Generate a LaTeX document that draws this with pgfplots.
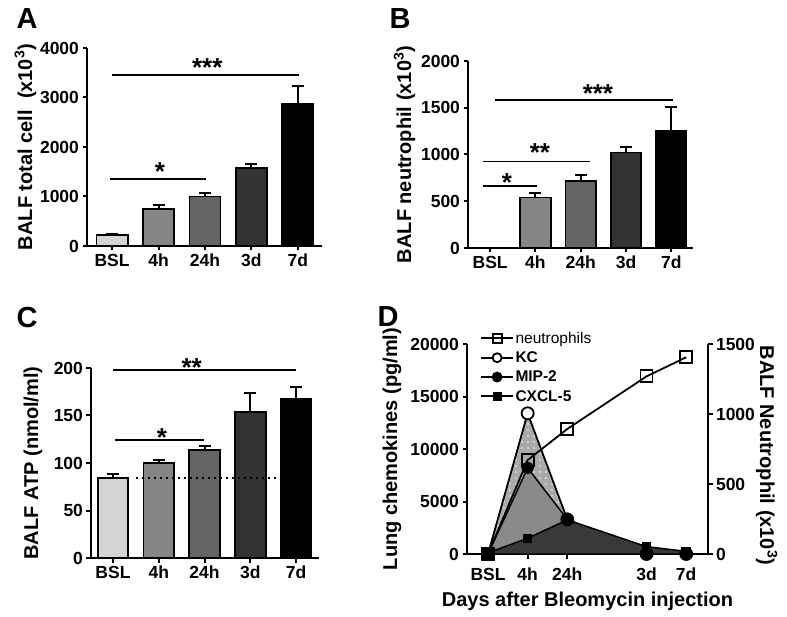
\documentclass[border=0pt]{standalone}
\usepackage{fontspec}
\setmainfont{Liberation Sans}
\usepackage{pgfplots}
\pgfplotsset{compat=1.18}
\usetikzlibrary{patterns.meta}

\newcommand{\fs}[1]{\fontsize{#1}{#1}\selectfont}

\definecolor{ga}{HTML}{D4D4D4}
\definecolor{gb}{HTML}{858585}
\definecolor{gc}{HTML}{646464}
\definecolor{gd}{HTML}{333333}
\definecolor{ge}{HTML}{000000}
\definecolor{kcg}{HTML}{A9A9A9}
\definecolor{mipg}{HTML}{8A8A8A}
\definecolor{cxg}{HTML}{393939}

\pgfplotsset{
  panel/.style={
    scale only axis, anchor=south west, clip=false,
    axis lines*=left,
    axis line style={-, line width=2pt},
    tick align=outside, major tick length=4.5pt,
    every tick/.style={black, line width=2pt},
    tick label style={font=\fs{17.5}\bfseries},
    /pgf/number format/assume math mode=true,
    /pgf/number format/1000 sep={},
    scaled y ticks=false,
    ymin=0,
    xtick={0,1,2,3,4}, xticklabels={BSL,4h,24h,3d,7d},
    minor tick num=0,
  },
  mybar/.style={ybar, bar width=0.67, bar shift=0pt, fill=#1, draw=black, line width=1.8pt,
    error bars/y dir=plus, error bars/y explicit,
    error bars/error bar style={line width=2pt, black},
    error bars/error mark options={rotate=90, mark size=6pt, line width=2pt, black}},
  sig/.style={black, line width=1.8pt, mark=none},
}
\tikzset{star/.style={anchor=base, font=\fs{26}\bfseries, yshift=-14pt}}

\begin{document}
\begin{tikzpicture}
\useasboundingbox (0,0) rectangle (787pt,616pt);

\node[font=\fs{29}\bfseries] at (27pt,597pt) {A};
\node[font=\fs{29}\bfseries] at (400pt,597pt) {B};
\node[font=\fs{29}\bfseries] at (27pt,298pt) {C};
\node[font=\fs{29}\bfseries] at (388pt,299pt) {D};

% ---------------- A
\begin{axis}[panel, at={(87pt,370pt)}, width=235pt, height=198pt,
  xmin=-0.54, xmax=4.52, ymax=4000, ytick={0,1000,2000,3000,4000},
  ylabel={BALF total cell\ \ (x10\textsuperscript{3})},
  every axis y label/.style={at={(axis description cs:-0.234,0.5)}, rotate=90, anchor=base, font=\fs{20}\bfseries}]
\addplot[mybar=ga] coordinates {(0,216) +- (0,27)};
\addplot[mybar=gb] coordinates {(1,742) +- (0,88)};
\addplot[mybar=gc] coordinates {(2,1000) +- (0,70)};
\addplot[mybar=gd] coordinates {(3,1572) +- (0,87)};
\addplot[mybar=ge] coordinates {(4,2874) +- (0,350)};
\addplot[sig] coordinates {(0,3455) (4.02,3455)};
\addplot[sig] coordinates {(-0.05,1353) (2.02,1353)};
\node[star] at (axis cs:2.05,3717) {***};
\node[star] at (axis cs:1.03,1596) {*};
\end{axis}

% ---------------- B
\begin{axis}[panel, at={(468pt,368pt)}, width=225pt, height=187pt,
  xmin=-0.49, xmax=4.48, ymax=2000, ytick={0,500,1000,1500,2000},
  ylabel={BALF neutrophil (x10\textsuperscript{3})},
  every axis y label/.style={at={(axis description cs:-0.253,0.5)}, rotate=90, anchor=base, font=\fs{20}\bfseries}]
\addplot[mybar=gb] coordinates {(1,539) +- (0,47)};
\addplot[mybar=gc] coordinates {(2,718) +- (0,64)};
\addplot[mybar=gd] coordinates {(3,1021) +- (0,58)};
\addplot[mybar=ge] coordinates {(4,1257) +- (0,247)};
\addplot[sig] coordinates {(0.1,1582) (4.04,1582)};
\addplot[sig] coordinates {(-0.15,925) (2.2,925)};
\addplot[sig] coordinates {(-0.15,661) (1.04,661)};
\node[star] at (axis cs:2.38,1711) {***};
\node[star] at (axis cs:1.1,1080) {**};
\node[star] at (axis cs:0.37,749) {*};
\end{axis}

% ---------------- C
\begin{axis}[panel, at={(91pt,58pt)}, width=228pt, height=190pt,
  xmin=-0.48, xmax=4.5, ymax=200, ytick={0,50,100,150,200},
  ylabel={BALF ATP (nmol/ml)},
  every axis y label/.style={at={(axis description cs:-0.232,0.5)}, rotate=90, anchor=base, font=\fs{20}\bfseries}]
\addplot[mybar=ga] coordinates {(0,84.2) +- (0,4.2)};
\addplot[mybar=gb] coordinates {(1,99.6) +- (0,3.2)};
\addplot[mybar=gc] coordinates {(2,114) +- (0,3.9)};
\addplot[mybar=gd] coordinates {(3,153.7) +- (0,19.6)};
\addplot[mybar=ge] coordinates {(4,167) +- (0,12.6)};
\addplot[black, line width=2pt, dash pattern=on 2pt off 4pt] coordinates {(0.5,83.9) (3.65,83.9)};
\addplot[sig] coordinates {(0,197.9) (4,197.9)};
\addplot[sig] coordinates {(0.04,124.6) (1.99,124.6)};
\node[star] at (axis cs:1.72,206) {**};
\node[star] at (axis cs:1.07,131.6) {*};
\end{axis}

% ---------------- D (left axis: chemokines)
\begin{axis}[panel, at={(467pt,62pt)}, width=241pt, height=210pt,
  xmin=-0.53, xmax=5.55, ymax=20000,
  xtick={0,1,2,4,5}, xticklabels={BSL,4h,24h,3d,7d},
  xticklabel style={yshift=-6pt},
  ytick={0,5000,10000,15000,20000},
  ylabel={Lung chemokines (pg/ml)},
  xlabel={Days after Bleomycin injection},
  every axis y label/.style={at={(axis description cs:-0.29,0.5)}, rotate=90, anchor=base, font=\fs{20}\bfseries},
  every axis x label/.style={at={(axis description cs:0.5,-0.252)}, anchor=base, font=\fs{20}\bfseries},
  legend style={at={(axis description cs:0.054,1.066)}, anchor=north west, draw=none, fill=none,
    font=\fs{15.5}\bfseries, row sep=4pt, inner sep=0pt, nodes={inner sep=1.5pt}},
  legend cell align=left,
  legend image code/.code={\draw[#1, mark repeat=2, mark phase=2] plot coordinates {(0pt,0pt) (16pt,0pt) (32pt,0pt)};}]
\addlegendimage{black, line width=1.8pt, mark=square, mark size=4.5pt, mark options={fill=white}}
\addlegendentry{\mdseries neutrophils}
\addlegendimage{black, line width=1.8pt, mark=*, mark size=4.5pt, mark options={fill=white}}
\addlegendentry{KC}
\addlegendimage{black, line width=1.8pt, mark=*, mark size=4.5pt, mark options={fill=black}}
\addlegendentry{MIP-2}
\addlegendimage{black, line width=1.8pt, mark=square*, mark size=3.5pt, mark options={fill=black}}
\addlegendentry{CXCL-5}
% KC
\addplot[forget plot, draw=black, line width=1.5pt, fill=kcg,
  postaction={pattern={Dots[distance=6pt, radius=0.8pt]}, pattern color=white!90!kcg},
  mark=*, mark size=6pt, mark options={fill=white, line width=1.8pt}]
  coordinates {(0,0) (1,13400) (2,3300) (4,0) (5,0)} \closedcycle;
% MIP-2
\addplot[forget plot, draw=black, line width=1.5pt, fill=mipg,
  mark=*, mark size=5.5pt, mark options={fill=black}]
  coordinates {(0,0) (1,8200) (2,3300) (4,0) (5,0)} \closedcycle;
% CXCL-5
\addplot[forget plot, draw=black, line width=1.5pt, fill=cxg,
  mark=square*, mark size=4pt, mark options={fill=black}]
  coordinates {(0,100) (1,1500) (2,3250) (4,700) (5,250)} \closedcycle;
\end{axis}

% ---------------- D (right axis: neutrophils)
\begin{axis}[panel, at={(467pt,62pt)}, width=241pt, height=210pt,
  xmin=-0.53, xmax=5.55, ymax=1500,
  axis x line=none, axis y line*=right,
  ytick={0,500,1000,1500},
  ylabel={BALF Neutrophil (x10\textsuperscript{3})},
  every axis y label/.style={at={(axis description cs:1.216,0.47)}, rotate=-90, anchor=base, font=\fs{20}\bfseries}]
\addplot[black, line width=1.8pt, mark=square, mark size=6pt, mark options={fill=none}]
  coordinates {(0,0) (1,671) (2,893) (4,1269) (5,1405)};
\end{axis}
\end{tikzpicture}
\end{document}
